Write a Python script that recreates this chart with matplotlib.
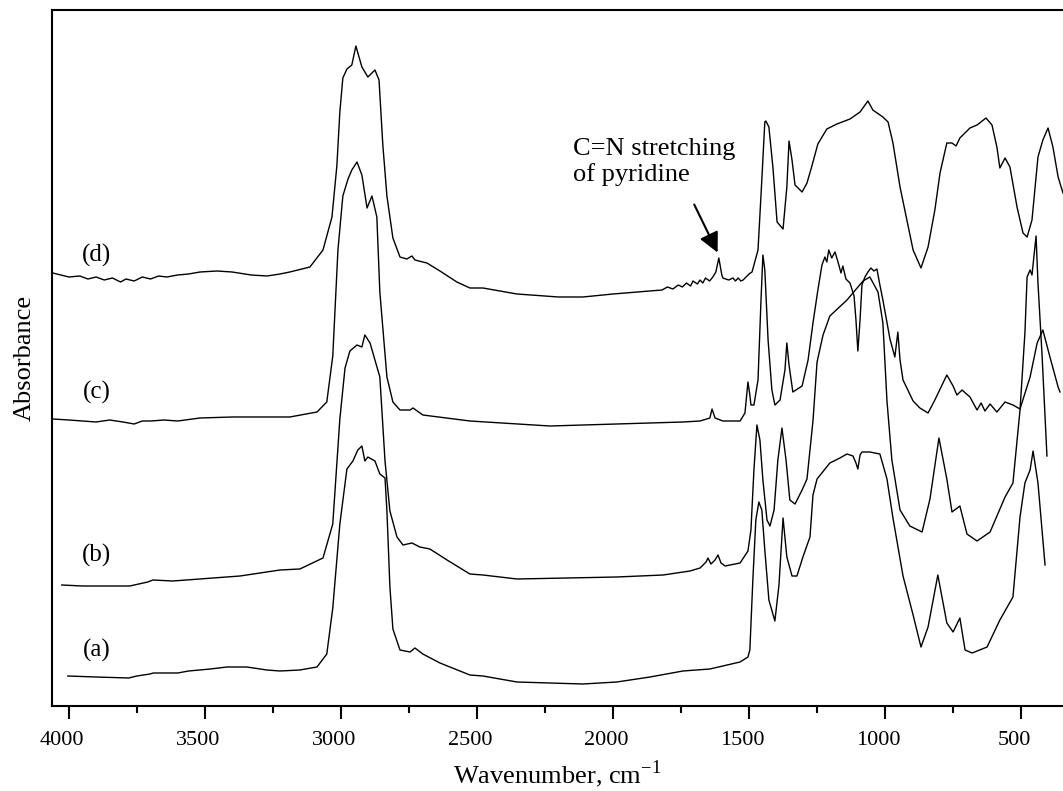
import matplotlib
matplotlib.use("Agg")
import matplotlib.pyplot as plt
from matplotlib.ticker import MultipleLocator
from matplotlib.transforms import ScaledTranslation

plt.rcParams['font.family'] = ['Liberation Serif', 'DejaVu Serif']

# spectrum (a)
wn_a = [4004, 3900, 3780, 3750, 3702, 3690, 3600, 3560, 3480, 3419, 3346, 3272, 3224, 3151,
        3088, 3052, 3030, 3004, 2978, 2956, 2938, 2923, 2912, 2901, 2875, 2857, 2838, 2831,
        2820, 2809, 2783, 2746, 2728, 2699, 2636, 2526, 2478, 2353, 2111, 1986, 1864, 1743,
        1644, 1533, 1504, 1497, 1486, 1475, 1464, 1453, 1442, 1427, 1405, 1390, 1375, 1361,
        1342, 1324, 1302, 1276, 1265, 1250, 1203, 1166, 1140, 1118, 1107, 1100, 1092, 1085,
        1056, 1019, 993, 971, 934, 897, 868, 842, 806, 773, 750, 725, 706, 680, 625, 578, 530,
        504, 486, 467, 456, 438, 412]
abs_a = [0.29, 0.28, 0.27, 0.29, 0.31, 0.32, 0.32, 0.34, 0.36, 0.38, 0.38, 0.35, 0.34, 0.35,
         0.38, 0.51, 0.97, 1.81, 2.36, 2.44, 2.55, 2.59, 2.44, 2.48, 2.44, 2.31, 2.27, 1.94,
         1.18, 0.76, 0.55, 0.53, 0.57, 0.51, 0.42, 0.30, 0.29, 0.23, 0.21, 0.23, 0.28, 0.34,
         0.36, 0.43, 0.48, 0.55, 1.25, 1.85, 2.03, 1.95, 1.55, 1.05, 0.84, 1.20, 1.87, 1.48,
         1.29, 1.29, 1.48, 1.68, 2.10, 2.26, 2.42, 2.47, 2.51, 2.49, 2.42, 2.36, 2.50, 2.53,
         2.53, 2.51, 2.26, 1.87, 1.29, 0.90, 0.58, 0.78, 1.30, 0.82, 0.73, 0.87, 0.55, 0.52,
         0.58, 0.85, 1.08, 1.88, 2.22, 2.35, 2.54, 2.22, 1.40]

# spectrum (b)
wn_b = [4026, 3950, 3776, 3710, 3691, 3618, 3371, 3224, 3151, 3066, 3030, 3004, 2985, 2967,
        2941, 2923, 2912, 2893, 2875, 2857, 2838, 2820, 2794, 2772, 2739, 2710, 2673, 2610,
        2526, 2478, 2353, 1986, 1816, 1717, 1680, 1658, 1651, 1640, 1625, 1614, 1603, 1588,
        1533, 1504, 1493, 1482, 1471, 1460, 1449, 1434, 1423, 1408, 1394, 1379, 1364, 1350,
        1331, 1305, 1287, 1265, 1250, 1228, 1203, 1140, 1081, 1056, 1026, 1008, 993, 975, 945,
        909, 864, 835, 802, 773, 754, 725, 699, 662, 614, 559, 530, 504, 486, 478, 467, 460,
        445, 438, 423, 405]
abs_b = [1.20, 1.19, 1.19, 1.23, 1.25, 1.24, 1.29, 1.35, 1.36, 1.47, 1.81, 2.86, 3.37, 3.54,
         3.60, 3.58, 3.70, 3.62, 3.45, 3.28, 2.44, 1.94, 1.68, 1.60, 1.62, 1.58, 1.56, 1.45,
         1.31, 1.30, 1.26, 1.28, 1.30, 1.34, 1.37, 1.43, 1.47, 1.41, 1.45, 1.50, 1.42, 1.39,
         1.42, 1.54, 1.75, 2.35, 2.80, 2.65, 2.25, 1.85, 1.79, 1.95, 2.45, 2.77, 2.45, 2.05,
         2.01, 2.15, 2.26, 2.84, 3.43, 3.70, 3.89, 4.05, 4.24, 4.28, 4.13, 3.82, 3.04, 2.45, 1.95,
         1.79, 1.73, 2.06, 2.67, 2.26, 1.93, 1.99, 1.71, 1.64, 1.73, 2.08, 2.22, 2.95, 3.72, 4.28,
         4.35, 4.30, 4.69, 4.22, 3.50, 2.49]

# spectrum (c)
wn_c = [4059, 4000, 3950, 3900, 3850, 3801, 3760, 3730, 3700, 3650, 3600, 3518, 3400, 3300,
        3188, 3088, 3052, 3030, 3011, 2993, 2974, 2960, 2941, 2923, 2904, 2886, 2868, 2857,
        2831, 2809, 2783, 2746, 2735, 2699, 2526, 2232, 1743, 1680, 1644, 1636, 1625, 1596,
        1533, 1515, 1504, 1497, 1493, 1482, 1467, 1456, 1449, 1442, 1430, 1416, 1405, 1386,
        1368, 1361, 1353, 1339, 1305, 1283, 1265, 1247, 1232, 1221, 1214, 1207, 1196, 1184,
        1173, 1162, 1155, 1144, 1129, 1114, 1107, 1100, 1092, 1085, 1074, 1063, 1052, 1041,
        1030, 1019, 1008, 982, 964, 953, 945, 934, 897, 872, 842, 817, 773, 750, 736, 717, 688,
        662, 647, 633, 614, 589, 559, 530, 504, 467, 441, 420, 394, 364, 357]
abs_c = [2.86, 2.85, 2.84, 2.83, 2.85, 2.83, 2.81, 2.84, 2.84, 2.85, 2.84, 2.87, 2.88, 2.88,
         2.88, 2.93, 3.03, 3.49, 4.55, 5.09, 5.26, 5.35, 5.43, 5.30, 4.97, 5.09, 4.88, 4.13,
         3.28, 3.03, 2.95, 2.95, 2.97, 2.90, 2.84, 2.79, 2.83, 2.84, 2.87, 2.96, 2.87, 2.84,
         2.84, 2.92, 3.23, 3.10, 3.00, 3.00, 3.25, 4.05, 4.50, 4.35, 3.65, 3.15, 3.00, 3.05,
         3.35, 3.62, 3.40, 3.13, 3.19, 3.45, 3.82, 4.15, 4.40, 4.48, 4.43, 4.55, 4.47, 4.53,
         4.43, 4.32, 4.39, 4.26, 4.22, 4.09, 3.85, 3.54, 3.85, 4.20, 4.28, 4.33, 4.37, 4.34,
         4.36, 4.20, 4.05, 3.66, 3.48, 3.73, 3.45, 3.25, 3.04, 2.97, 2.92, 3.05, 3.30, 3.19,
         3.10, 3.15, 3.08, 2.95, 3.02, 2.94, 3.01, 2.93, 3.03, 3.00, 2.96, 3.28, 3.62, 3.75,
         3.48, 3.18, 3.13]

# spectrum (d)
wn_d = [4059, 4030, 4000, 3960, 3930, 3900, 3870, 3840, 3810, 3790, 3760, 3730, 3700, 3670,
        3640, 3600, 3560, 3518, 3456, 3400, 3330, 3272, 3224, 3188, 3114, 3066, 3033, 3015,
        3004, 2993, 2978, 2960, 2945, 2923, 2901, 2875, 2860, 2846, 2831, 2809, 2783, 2758,
        2739, 2728, 2684, 2636, 2574, 2526, 2478, 2353, 2200, 2111, 2000, 1864, 1820, 1800,
        1780, 1760, 1745, 1730, 1715, 1706, 1690, 1680, 1670, 1660, 1645, 1633, 1622, 1611,
        1600, 1596, 1575, 1559, 1550, 1540, 1530, 1522, 1500, 1489, 1467, 1453, 1442, 1438,
        1427, 1412, 1397, 1375, 1361, 1353, 1342, 1331, 1305, 1287, 1269, 1247, 1214, 1177,
        1129, 1092, 1063, 1045, 1008, 989, 971, 945, 920, 897, 868, 842, 817, 798, 773, 754,
        739, 725, 688, 662, 629, 607, 589, 578, 559, 541, 515, 493, 478, 460, 438, 420, 401,
        383, 364, 346]
abs_d = [4.32, 4.30, 4.28, 4.29, 4.26, 4.28, 4.25, 4.27, 4.23, 4.26, 4.24, 4.28, 4.26, 4.29,
         4.28, 4.30, 4.31, 4.33, 4.34, 4.33, 4.30, 4.29, 4.31, 4.33, 4.38, 4.55, 4.88, 5.39,
         5.93, 6.27, 6.36, 6.40, 6.59, 6.38, 6.28, 6.35, 6.25, 5.60, 5.09, 4.67, 4.48, 4.46,
         4.49, 4.45, 4.42, 4.34, 4.23, 4.17, 4.17, 4.11, 4.08, 4.08, 4.11, 4.14, 4.15, 4.18,
         4.16, 4.20, 4.18, 4.22, 4.19, 4.24, 4.21, 4.25, 4.22, 4.27, 4.24, 4.28, 4.33, 4.47,
         4.30, 4.27, 4.25, 4.27, 4.24, 4.27, 4.24, 4.25, 4.31, 4.33, 4.55, 5.25, 5.83, 5.84,
         5.78, 5.37, 4.83, 4.76, 5.18, 5.64, 5.45, 5.20, 5.13, 5.22, 5.39, 5.61, 5.76, 5.81,
         5.86, 5.93, 6.04, 5.95, 5.88, 5.83, 5.62, 5.18, 4.85, 4.55, 4.37, 4.58, 4.95, 5.32,
         5.62, 5.62, 5.59, 5.67, 5.77, 5.80, 5.87, 5.80, 5.58, 5.37, 5.47, 5.38, 4.98, 4.72,
         4.68, 4.85, 5.48, 5.65, 5.77, 5.58, 5.28, 5.12]

labels = ['(a)', '(b)', '(c)', '(d)']
label_pos = [0.55, 1.50, 3.13, 4.50]

fig = plt.figure(figsize=(10.63, 7.91), dpi=100)
ax = fig.add_axes([52 / 1063, 85 / 791, 1011 / 1063, 696 / 791])

for wn, ab in [(wn_a, abs_a), (wn_b, abs_b), (wn_c, abs_c), (wn_d, abs_d)]:
    ax.plot(wn, ab, color='black', lw=1.0)

for lab, y in zip(labels, label_pos):
    ax.text(3897, y, lab, fontsize=18, ha='center', va='center')

ax.text(2147, 5.43, 'C=N stretching\nof pyridine', fontsize=19, ha='left', va='center',
        linespacing=1.2)
ax.annotate('', xy=(1611, 4.50), xytext=(1706, 5.03),
            arrowprops=dict(arrowstyle='-|>', color='black', lw=1.5, mutation_scale=30))

ax.set_xlim(4062, 346)
ax.set_ylim(-0.01, 6.95)
ax.set_yticks([])
ax.xaxis.set_major_locator(MultipleLocator(500))
ax.xaxis.set_minor_locator(MultipleLocator(250))
ax.tick_params(axis='x', which='major', direction='out', length=9, width=1.5,
               labelsize=16, pad=9)
ax.tick_params(axis='x', which='minor', direction='out', length=5, width=1.5)
for side in ['left', 'bottom', 'top']:
    ax.spines[side].set_linewidth(1.5)
ax.spines['right'].set_visible(False)

ax.set_xlabel('Wavenumber, cm$^{\\mathregular{-1}}$', fontsize=19, labelpad=6)
ax.set_ylabel('Absorbance', fontsize=19, labelpad=12)

fig.canvas.draw()
ax.xaxis.get_major_ticks()[0].tick1line.set_visible(False)
shift = ScaledTranslation(-7 / 100, 0, fig.dpi_scale_trans)
for lbl in ax.get_xticklabels():
    lbl.set_transform(lbl.get_transform() + shift)

fig.savefig('out.png', dpi=100)
